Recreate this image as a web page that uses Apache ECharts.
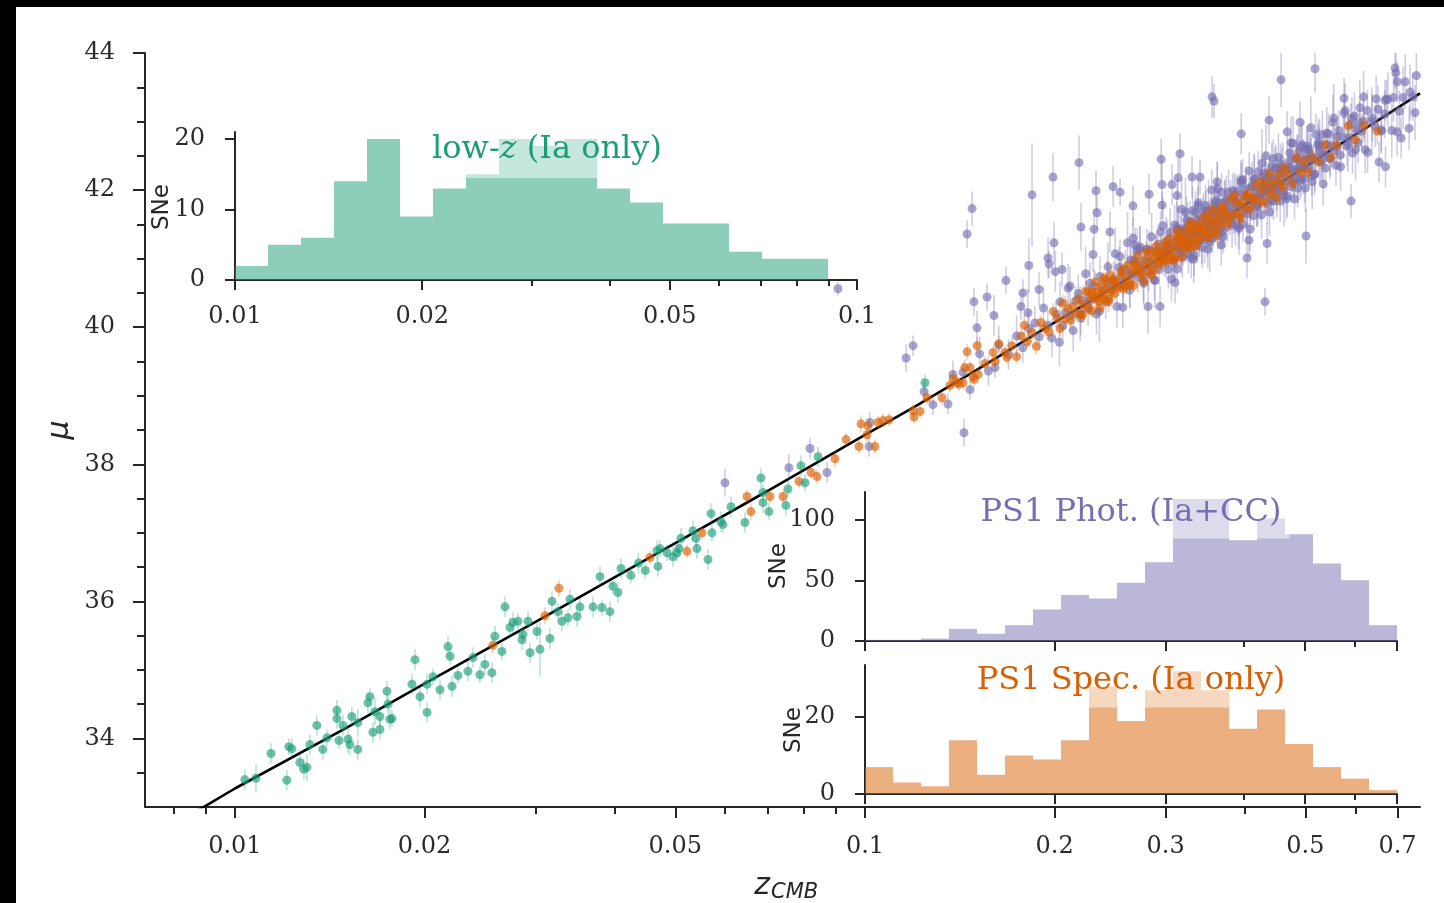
<!DOCTYPE html>
<html><head><meta charset="utf-8">
<script src="https://cdn.jsdelivr.net/npm/echarts@6.0.0/dist/echarts.min.js"></script>
<style>html,body{margin:0;padding:0;background:#fff}#c{width:1444px;height:903px}</style>
</head><body><div id="c"></div><script>
// ---------- model curve ----------
const curveZ  = [0.008,0.009,0.01,0.015,0.02,0.03,0.05,0.07,0.1,0.12,0.15,0.2,0.25,0.3,0.35,0.4,0.45,0.5,0.55,0.6,0.65,0.7,0.76];
const curveMu = [32.76,33.02,33.27,34.15,34.80,35.70,36.85,37.61,38.43,38.84,39.37,40.07,40.60,41.06,41.45,41.78,42.07,42.34,42.59,42.81,43.01,43.20,43.41];

// ---------- histograms ----------
const lowzEdges  = [0.01,0.011297,0.012762,0.014417,0.016287,0.0184,0.020786,0.023482,0.026527,0.029967,0.033854,0.038244,0.043204,0.048807,0.055137,0.062288,0.070366,0.079491,0.0898];
const lowzCounts = [2,5,6,14,20,9,13,15,20,19,20,13,11,8,8,4,3,3];
const ps1Edges   = [0.1,0.11079,0.12275,0.136,0.15068,0.16694,0.18496,0.20492,0.22704,0.25154,0.27869,0.30877,0.34209,0.37902,0.41992,0.46524,0.51546,0.57109,0.63272,0.7];
const photCounts = [1,1,2,10,6,13,26,38,35,48,65,117,117,83,101,88,64,50,13];
const specCounts = [7,3,2,14,5,10,9,14,28,19,27,32,27,17,22,13,7,4,1];

// ---------- tick values ----------
const mainMajorX = [0.01,0.02,0.05,0.1,0.2,0.3,0.5,0.7];
const mainMinorX = [0.008,0.009,0.03,0.04,0.06,0.07,0.08,0.09,0.4,0.6];
const mainMajorY = [34,36,38,40,42,44];
const mainMinorY = [33.5,34.5,35,35.5,36.5,37,37.5,38.5,39,39.5,40.5,41,41.5,42.5,43,43.5];
const lowzMajorX = [0.01,0.02,0.05,0.1];
const lowzMinorX = [0.03,0.04,0.06,0.07,0.08,0.09];
const ps1MajorX  = [0.1,0.2,0.3,0.5,0.7];
const ps1MinorX  = [0.4,0.6];
const lowzTicksY = [0,10,20];
const photTicksY = [0,50,100];
const specTicksY = [0,20];

// ---------- low-z sample [z, mu, err] ----------
const lowzData = [
[0.01037,33.40,0.15],[0.01080,33.42,0.2],[0.01141,33.78,0.15],[0.01209,33.39,0.15],[0.01218,33.88,0.12],[0.01231,33.85,0.15],[0.01268,33.65,0.12],[0.01287,33.55,0.15],[0.01301,33.58,0.2],[0.01315,33.91,0.15],
[0.01349,34.19,0.15],[0.01379,33.84,0.15],[0.01400,34.01,0.12],[0.01452,34.41,0.15],[0.01452,34.29,0.15],[0.01463,33.97,0.12],[0.01484,34.19,0.15],[0.01512,33.99,0.2],[0.01522,33.91,0.15],[0.01533,34.32,0.15],
[0.01567,33.84,0.15],[0.01567,34.23,0.2],[0.01626,34.52,0.15],[0.01638,34.61,0.12],[0.01656,34.09,0.15],[0.01668,34.39,0.2],[0.01699,34.13,0.15],[0.01699,34.32,0.15],[0.01743,34.69,0.15],[0.01750,34.50,0.15],
[0.01762,34.28,0.15],[0.01775,34.29,0.12],[0.01910,34.79,0.15],[0.01931,35.15,0.15],[0.01967,34.61,0.15],[0.02018,34.38,0.15],[0.02018,34.79,0.15],[0.02062,34.90,0.12],[0.02116,34.71,0.15],[0.02179,35.34,0.15],
[0.02195,35.20,0.12],[0.02211,34.76,0.15],[0.02259,34.92,0.12],[0.02343,34.98,0.15],[0.02387,35.18,0.15],[0.02448,34.93,0.12],[0.02493,35.08,0.15],[0.02558,34.96,0.15],[0.02586,35.49,0.15],[0.02653,35.27,0.12],
[0.02683,35.92,0.15],[0.02732,35.62,0.15],[0.02763,35.69,0.15],[0.02813,35.71,0.12],[0.02855,35.44,0.15],[0.02865,35.52,0.12],[0.02918,35.71,0.15],[0.02940,35.25,0.15],[0.03016,35.56,0.12],[0.03049,35.30,0.4],
[0.03162,35.46,0.15],[0.03186,36.00,0.15],[0.03256,35.85,0.12],[0.03304,35.71,0.15],[0.03378,35.76,0.12],[0.03402,36.03,0.15],[0.03491,35.78,0.15],[0.03529,35.92,0.12],[0.03701,35.92,0.15],[0.03797,36.36,0.15],
[0.03825,35.91,0.12],[0.03938,35.85,0.15],[0.03981,36.22,0.12],[0.04054,36.13,0.15],[0.04100,36.48,0.15],[0.0425,36.38,0.12],[0.0437,36.56,0.15],[0.0448,36.45,0.12],[0.04676,36.74,0.15],[0.04693,36.51,0.15],
[0.04727,36.77,0.12],[0.04850,36.71,0.12],[0.04957,36.65,0.15],[0.05030,36.71,0.12],[0.05067,36.77,0.12],[0.05104,36.92,0.15],[0.05333,37.03,0.15],[0.05391,36.92,0.12],[0.05411,36.77,0.15],[0.05634,36.61,0.15],
[0.05696,37.28,0.15],[0.05717,37.00,0.12],[0.05907,37.16,0.15],[0.05951,37.12,0.12],[0.06128,37.38,0.15],[0.06449,37.15,0.15],[0.06838,37.80,0.15],[0.06888,37.59,0.12],[0.06888,37.44,0.15],[0.07041,37.31,0.12],
[0.07490,37.40,0.15],[0.07546,37.64,0.12],[0.07913,37.98,0.15],[0.08031,37.73,0.12],[0.08423,38.11,0.15],[0.1245,39.19,0.12]
];

// ---------- PS1 spectroscopic sample [z, mu, err] ----------
const specData = [
[0.02567,35.36,0.12],[0.03105,35.79,0.12],[0.03268,36.19,0.12],[0.04557,36.64,0.1],[0.05218,36.73,0.1],[0.05512,37.00,0.1],[0.06497,37.53,0.1],[0.06592,37.31,0.12],[0.07067,37.53,0.1],[0.07411,37.53,0.1],
[0.07855,37.75,0.1],[0.08210,37.88,0.1],[0.08391,37.82,0.1],[0.08962,38.08,0.12],[0.09329,38.36,0.1],[0.09783,38.26,0.1],[0.09855,38.59,0.12],[0.1007,38.43,0.1],[0.1011,38.56,0.1],[0.1037,38.26,0.1],
[0.1049,38.61,0.1],[0.1068,38.64,0.1],[0.1092,38.65,0.1],[0.1192,38.78,0.1],[0.1196,38.69,0.1],[0.1223,38.77,0.1],[0.1254,38.97,0.1],[0.1325,38.97,0.1],[0.1364,39.15,0.1],[0.1400,39.19,0.1],
[0.1431,39.19,0.1],[0.1452,39.64,0.12],[0.1468,39.41,0.1],[0.1484,39.28,0.1],[0.1506,39.73,0.12],[0.1512,39.31,0.1],[0.1597,39.63,0.1],[0.1608,39.50,0.1],[0.1668,39.63,0.1],
[0.138,39.25,0.12],[0.141,39.17,0.1],[0.144,39.41,0.12],[0.149,39.24,0.1],[0.155,39.47,0.1],[0.163,39.76,0.12],
[0.168,39.56,0.1],[0.171,39.73,0.12],[0.174,39.57,0.1],[0.177,39.87,0.12],[0.179,40.03,0.15],[0.181,39.79,0.1],[0.184,39.92,0.12],
[0.187,39.72,0.12],[0.190,40.07,0.1],[0.193,39.98,0.12],[0.196,39.93,0.1],[0.199,40.23,0.12],[0.202,40.13,0.1],[0.204,39.98,0.12],
[0.206,40.35,0.12],[0.208,40.12,0.1],[0.210,40.27,0.12],[0.212,40.10,0.1],[0.214,40.30,0.12],[0.216,40.20,0.1],[0.218,40.41,0.12],[0.220,40.18,0.1],[0.222,40.33,0.12],[0.224,40.52,0.15],[0.226,40.28,0.1],
[0.228,40.43,0.12],[0.229,40.24,0.1],[0.230,40.51,0.12],[0.232,40.66,0.15],[0.233,40.41,0.1],[0.234,40.51,0.12],[0.236,40.28,0.1],[0.237,40.60,0.12],[0.238,40.48,0.1],[0.240,40.41,0.12],
[0.241,40.68,0.12],[0.242,40.56,0.1],[0.244,40.41,0.12],[0.245,40.76,0.15],[0.246,40.52,0.1],[0.248,40.67,0.12],[0.249,40.49,0.1],[0.250,40.68,0.12],
[0.253,40.58,0.12],[0.255,40.79,0.1],[0.257,40.56,0.12],[0.259,40.71,0.1],[0.261,40.90,0.15],[0.263,40.65,0.1],[0.265,40.80,0.12],[0.267,40.61,0.1],[0.269,40.89,0.12],[0.271,41.04,0.15],[0.273,40.80,0.1],[0.275,40.91,0.12],[0.277,40.67,0.1],
[0.280,41.01,0.12],[0.282,40.90,0.1],[0.283,40.82,0.12],[0.285,41.10,0.12],[0.287,40.99,0.1],[0.288,40.83,0.12],[0.290,41.18,0.15],[0.292,40.95,0.1],[0.293,41.09,0.12],[0.295,40.92,0.1],
[0.297,41.11,0.12],[0.298,40.99,0.1],[0.300,41.20,0.12],[0.302,40.97,0.1],[0.303,41.10,0.12],[0.305,41.29,0.15],[0.306,41.03,0.1],[0.308,41.17,0.12],
[0.310,40.99,0.12],[0.312,41.27,0.1],[0.313,41.40,0.15],[0.315,41.16,0.1],[0.316,41.26,0.12],[0.318,41.02,0.12],[0.319,41.34,0.1],[0.321,41.23,0.12],[0.322,41.15,0.1],[0.324,41.42,0.15],
[0.325,41.30,0.1],[0.327,41.15,0.12],[0.328,41.49,0.15],[0.330,41.26,0.1],[0.331,41.40,0.12],[0.333,41.22,0.1],[0.334,41.41,0.12],[0.336,41.30,0.1],[0.338,41.50,0.15],[0.340,41.27,0.12],
[0.343,41.42,0.12],[0.345,41.60,0.12],[0.347,41.35,0.1],[0.349,41.49,0.12],[0.351,41.31,0.1],[0.353,41.58,0.12],[0.355,41.72,0.15],[0.357,41.48,0.1],[0.359,41.58,0.12],[0.361,41.35,0.12],
[0.363,41.67,0.12],[0.365,41.55,0.1],[0.368,41.49,0.12],[0.371,41.76,0.15],[0.374,41.66,0.1],[0.377,41.51,0.12],
[0.381,41.88,0.12],[0.385,41.65,0.12],[0.389,41.80,0.1],[0.393,41.64,0.12],[0.397,41.84,0.12],[0.401,41.74,0.1],[0.405,41.95,0.15],[0.409,41.73,0.12],[0.413,41.88,0.12],[0.417,42.08,0.15],
[0.422,41.84,0.12],[0.426,42.00,0.12],[0.430,41.82,0.12],[0.434,42.10,0.12],[0.438,42.25,0.15],[0.442,42.01,0.12],[0.446,42.12,0.12],[0.450,41.89,0.12],[0.454,42.23,0.15],[0.457,42.11,0.12],[0.460,42.04,0.12],[0.463,42.32,0.15],
[0.470,42.23,0.15],[0.477,42.09,0.12],[0.484,42.47,0.15],[0.491,42.26,0.12],[0.498,42.42,0.15],[0.505,42.26,0.12],[0.512,42.48,0.15],
[0.525,42.41,0.15],[0.537,42.66,0.15],[0.549,42.48,0.15],[0.560,42.66,0.15],[0.585,42.94,0.18],[0.600,42.73,0.18],[0.620,42.94,0.18],[0.650,42.86,0.2]
];
const specExtra = [
[0.2215,40.18,0.12],[0.2265,40.52,0.1],[0.2315,40.44,0.15],[0.2355,40.38,0.12],[0.2395,40.71,0.1],[0.2435,40.37,0.15],[0.2475,40.67,0.12],[0.2515,40.60,0.1],[0.2555,40.83,0.15],[0.2595,40.60,0.12],
[0.2635,40.61,0.1],[0.2675,40.93,0.15],[0.2715,40.83,0.12],[0.2755,40.77,0.1],[0.2795,41.10,0.15],[0.2845,40.76,0.12],[0.2895,41.07,0.1],[0.2945,41.00,0.15],[0.2995,41.24,0.12],[0.3045,41.00,0.1],
[0.3095,41.02,0.15],[0.3145,41.34,0.12],[0.3195,41.25,0.1],[0.3245,41.19,0.15],[0.3295,41.52,0.12],[0.3345,41.18,0.1],[0.3395,41.47,0.15],[0.3445,41.40,0.12],[0.3495,41.63,0.1],[0.3545,41.39,0.15],
[0.3605,41.40,0.12],[0.3665,41.73,0.1],[0.3725,41.64,0.15],[0.3785,41.58,0.12],[0.3865,41.92,0.1],[0.3945,41.59,0.15],[0.4035,41.91,0.12],[0.4135,41.86,0.1],[0.4255,42.12,0.15],[0.4395,41.93,0.12]
];

// ---------- PS1 photometric sample [z, mu, err] ----------
const photScatter = [
[0.0906,40.56,0.1],[0.05995,37.73,0.2],[0.07573,37.95,0.2],[0.08180,38.23,0.15],[0.08705,37.88,0.15],[0.1018,38.61,0.15],[0.1015,38.26,0.15],[0.1162,39.55,0.2],[0.1192,39.73,0.15],[0.1241,39.06,0.15],
[0.1282,38.87,0.15],[0.1354,38.88,0.15],[0.1379,39.31,0.2],[0.1431,39.34,0.15],[0.1436,38.46,0.2],[0.1468,39.09,0.15],[0.1608,39.41,0.15],
[0.1479,41.73,0.25],[0.1452,41.36,0.2],[0.1841,41.93,0.75],[0.2186,42.40,0.4],[0.1988,42.19,0.35],[0.2326,41.99,0.3],[0.2476,42.05,0.3],[0.2540,41.97,0.2],[0.2663,41.77,0.3],
[0.2824,41.94,0.3],[0.2951,42.45,0.3],[0.3162,42.53,0.3],[0.2961,42.08,0.35],[0.2961,41.78,0.2],[0.3071,42.08,0.3],[0.3128,41.92,0.25],[0.3140,42.18,0.3],[0.3304,42.19,0.3],[0.3402,42.19,0.25],
[0.3620,42.12,0.3],[0.3554,43.36,0.3],[0.3580,43.30,0.25],[0.4575,43.61,0.4],[0.5179,43.77,0.35],[0.6937,43.78,0.3],[0.6960,43.71,0.3],[0.3954,42.82,0.3],[0.4378,43.02,0.35],[0.5758,43.34,0.3],
[0.6689,43.31,0.3],[0.7331,43.43,0.4],[0.7464,43.13,0.4],[0.4903,42.99,0.3],[0.4677,42.85,0.3],[0.6989,42.85,0.35],[0.7093,42.76,0.3],[0.6545,42.41,0.3],[0.6700,42.34,0.3],[0.5907,41.84,0.25],
[0.5012,41.33,0.4],[0.4314,40.37,0.2],[0.4039,41.01,0.3],[0.4346,41.22,0.3],[0.4069,41.27,0.25],[0.1674,40.68,0.2],[0.1489,40.37,0.2],[0.1562,40.44,0.2],[0.1506,39.99,0.25],[0.1602,40.17,0.3],
[0.1781,40.50,0.2],[0.1889,40.55,0.25],[0.1768,40.30,0.2],[0.1814,40.21,0.35],[0.1820,40.90,0.4],[0.1995,41.23,0.3],[0.1952,41.01,0.3],[0.1960,40.92,0.2],[0.2005,40.81,0.3],[0.2055,40.84,0.25],
[0.2202,41.46,0.35],[0.2310,41.43,0.3],[0.2301,41.06,0.25],[0.2448,41.39,0.3],[0.2335,41.67,0.25],[0.2663,41.30,0.3],[0.2683,41.20,0.25],[0.2733,41.17,0.3],[0.2540,41.03,0.25],[0.2643,40.98,0.2],
[0.2813,40.30,0.4],[0.2940,40.30,0.3],[0.3105,40.65,0.3]
];
const photBand = [
[0.152,39.61,0.25],[0.157,39.36,0.22],[0.163,39.74,0.28],[0.169,39.60,0.22],[0.174,39.87,0.3],[0.178,39.70,0.22],[0.182,39.98,0.25],
[0.186,40.06,0.25],[0.189,39.86,0.2],[0.192,40.28,0.3],[0.195,40.03,0.22],[0.198,39.84,0.28],[0.201,40.19,0.2],[0.204,40.37,0.3],
[0.206,40.02,0.2],[0.208,40.21,0.25],[0.210,40.57,0.35],[0.212,40.17,0.22],[0.214,39.95,0.3],[0.216,40.39,0.2],[0.218,40.49,0.28],[0.220,40.13,0.25],[0.222,40.39,0.22],[0.224,40.78,0.4],[0.226,40.27,0.25],
[0.228,40.39,0.2],[0.231,40.60,0.25],[0.233,40.19,0.3],[0.236,40.74,0.3],[0.238,40.54,0.22],[0.241,40.37,0.25],[0.243,40.88,0.35],[0.246,40.55,0.2],[0.248,40.70,0.25],[0.251,40.30,0.3],
[0.253,40.87,0.3],[0.255,40.74,0.22],[0.257,40.61,0.25],[0.259,40.85,0.28],[0.261,41.23,0.45],[0.263,40.54,0.25],[0.265,40.78,0.2],[0.267,40.97,0.3],[0.269,40.96,0.25],[0.271,40.73,0.22],[0.273,41.13,0.35],[0.275,40.86,0.2],[0.277,40.64,0.28],[0.278,40.97,0.22],
[0.280,41.14,0.3],[0.282,40.78,0.25],[0.283,40.96,0.2],[0.285,41.32,0.35],[0.287,40.92,0.22],[0.288,40.69,0.3],[0.290,41.11,0.25],[0.292,41.21,0.28],[0.293,40.84,0.22],[0.295,41.10,0.25],[0.297,41.48,0.4],[0.298,40.95,0.2],[0.300,41.07,0.22],[0.302,41.27,0.3],[0.303,40.84,0.28],[0.305,41.38,0.35],[0.306,41.17,0.22],[0.308,40.98,0.25],
[0.310,41.49,0.3],[0.311,41.14,0.2],[0.312,41.28,0.25],[0.313,40.85,0.35],[0.314,41.41,0.3],[0.315,41.27,0.22],[0.316,41.13,0.25],[0.317,41.36,0.28],[0.318,41.72,0.45],[0.319,41.02,0.3],[0.320,41.25,0.2],[0.321,41.44,0.25],[0.322,41.42,0.3],[0.323,41.17,0.22],[0.324,41.56,0.35],[0.325,41.28,0.2],
[0.326,41.06,0.28],[0.327,41.39,0.22],[0.328,41.54,0.3],[0.329,41.17,0.25],[0.330,41.35,0.2],[0.331,41.70,0.35],[0.332,41.29,0.22],[0.333,41.05,0.3],[0.334,41.47,0.25],[0.335,41.56,0.28],[0.336,41.19,0.22],[0.337,41.44,0.25],[0.338,41.81,0.4],[0.339,41.28,0.2],[0.340,41.39,0.22],[0.341,41.58,0.3],
[0.343,41.16,0.3],[0.344,41.69,0.2],[0.345,41.47,0.25],[0.346,41.28,0.35],[0.347,41.78,0.3],[0.348,41.43,0.22],[0.349,41.56,0.25],[0.350,41.14,0.28],[0.351,41.70,0.45],[0.352,41.55,0.3],[0.353,41.41,0.2],[0.354,41.64,0.25],[0.355,42.00,0.3],[0.356,41.30,0.22],[0.357,41.53,0.35],[0.358,41.72,0.2],
[0.359,41.69,0.28],[0.360,41.45,0.22],[0.361,41.84,0.3],[0.362,41.55,0.25],[0.363,41.33,0.2],[0.364,41.66,0.35],[0.365,41.81,0.22],[0.366,41.44,0.3],[0.367,41.62,0.25],[0.368,41.97,0.28],[0.369,41.55,0.22],[0.370,41.32,0.25],[0.372,41.74,0.4],[0.374,41.84,0.2],[0.376,41.47,0.22],[0.378,41.73,0.3],
[0.380,41.84,0.3],[0.382,41.60,0.2],[0.383,41.99,0.25],[0.385,41.71,0.35],[0.387,41.49,0.3],[0.388,41.82,0.22],[0.390,41.98,0.25],[0.392,41.61,0.28],[0.393,41.79,0.45],[0.395,42.14,0.3],[0.397,41.73,0.2],[0.398,41.50,0.25],
[0.400,41.92,0.3],[0.402,42.01,0.22],[0.404,41.65,0.35],[0.405,41.89,0.2],[0.407,42.28,0.28],[0.409,41.75,0.22],[0.410,41.86,0.3],[0.412,42.05,0.25],[0.414,41.63,0.2],[0.415,42.16,0.35],[0.417,41.95,0.22],[0.419,41.76,0.3],
[0.421,42.27,0.3],[0.423,41.92,0.2],[0.424,42.06,0.25],[0.426,41.64,0.35],[0.427,42.19,0.3],[0.429,42.05,0.22],[0.430,41.91,0.25],[0.432,42.14,0.28],[0.433,42.50,0.45],[0.435,41.80,0.3],[0.436,42.03,0.2],[0.438,42.22,0.25],[0.439,42.19,0.3],[0.441,41.96,0.22],
[0.442,42.34,0.35],[0.444,42.06,0.2],[0.445,41.84,0.28],[0.447,42.17,0.22],[0.448,42.32,0.3],[0.450,41.95,0.25],[0.451,42.13,0.2],[0.453,42.48,0.35],[0.454,42.07,0.22],[0.456,41.84,0.3],[0.457,42.25,0.25],[0.459,42.34,0.28],[0.461,41.98,0.22],[0.463,42.23,0.25],
[0.466,42.14,0.3],[0.468,41.91,0.3],[0.470,42.33,0.25],[0.472,42.42,0.3],[0.474,42.05,0.22],[0.476,42.30,0.25],[0.478,42.68,0.4],[0.480,42.15,0.22],[0.482,42.26,0.25],[0.484,42.45,0.3],[0.486,42.03,0.28],[0.488,42.56,0.35],[0.490,42.35,0.22],
[0.492,42.16,0.25],[0.494,42.66,0.35],[0.496,42.31,0.22],[0.498,42.45,0.25],[0.500,42.03,0.35],[0.502,42.59,0.3],[0.504,42.45,0.22],[0.506,42.31,0.25],[0.508,42.54,0.28],[0.510,42.91,0.45],[0.512,42.21,0.3],[0.514,42.44,0.22],
[0.517,42.23,0.3],[0.520,42.47,0.22],[0.523,42.66,0.3],[0.526,42.65,0.25],[0.529,42.41,0.28],[0.532,42.81,0.35],[0.535,42.53,0.22],[0.538,42.32,0.3],[0.541,42.66,0.25],[0.544,42.82,0.3],[0.547,42.46,0.25],[0.550,42.64,0.22],[0.553,42.99,0.4],[0.556,42.58,0.25],[0.559,42.36,0.3],[0.562,42.78,0.28],[0.565,42.87,0.3],[0.568,42.51,0.25],
[0.574,42.77,0.3],[0.578,43.16,0.4],[0.582,42.64,0.3],[0.586,42.76,0.25],[0.590,42.96,0.3],[0.594,42.54,0.3],[0.598,43.08,0.35],[0.602,42.88,0.25],[0.606,42.69,0.3],[0.610,43.20,0.4],[0.614,42.86,0.25],[0.618,43.00,0.3],[0.622,42.59,0.35],[0.627,43.16,0.3],
[0.638,43.05,0.35],[0.645,42.93,0.3],[0.652,43.18,0.35],[0.660,42.86,0.3],[0.668,43.11,0.35],[0.676,43.32,0.4],[0.690,43.35,0.35],[0.705,43.15,0.3],[0.720,43.58,0.4],[0.740,43.36,0.35]
];
const photExtra = [
[0.2035,39.78,0.35],[0.2115,40.60,0.28],[0.2195,40.20,0.4],[0.2275,40.64,0.3],[0.2355,40.23,0.45],[0.2425,40.65,0.32],[0.2495,41.07,0.38],[0.2565,40.29,0.3],[0.2635,40.77,0.5],[0.2705,41.12,0.33],
[0.2765,40.68,0.35],[0.2825,41.13,0.28],[0.2885,40.68,0.4],[0.2945,41.39,0.3],[0.3005,41.16,0.45],[0.3065,40.70,0.32],[0.3125,41.45,0.38],[0.3175,41.08,0.3],[0.3225,41.68,0.5],[0.3275,41.28,0.33],
[0.3325,40.99,0.35],[0.3375,41.77,0.28],[0.3425,41.32,0.4],[0.3475,41.70,0.3],[0.3525,41.25,0.45],[0.3575,41.63,0.32],[0.3625,42.02,0.38],[0.3675,41.20,0.3],[0.3725,41.65,0.5],[0.3775,41.97,0.33],
[0.3825,41.51,0.35],[0.3875,41.94,0.28],[0.3925,41.46,0.4],[0.3975,42.15,0.3],[0.4025,41.90,0.45],[0.4085,41.43,0.32],[0.4145,42.16,0.38],[0.4205,41.79,0.3],[0.4265,42.39,0.5],[0.4325,41.98,0.33],
[0.4385,41.68,0.35],[0.4445,42.46,0.28],[0.4505,42.00,0.4],[0.4565,42.38,0.3],[0.4625,41.92,0.45],[0.4685,42.30,0.32],[0.4745,42.69,0.38],[0.4805,41.87,0.3],[0.4865,42.31,0.5],[0.4925,42.63,0.33],
[0.4985,42.16,0.35],[0.5055,42.60,0.28],[0.5125,42.12,0.4],[0.5195,42.81,0.3],[0.5265,42.57,0.45],[0.5335,42.09,0.32],[0.5405,42.83,0.38],[0.5475,42.46,0.3],[0.5545,43.05,0.5],[0.5615,42.64,0.33],
[0.5685,42.34,0.35],[0.5765,43.12,0.28],[0.5845,42.66,0.4],[0.5925,43.05,0.3],[0.6005,42.59,0.45],[0.6095,42.98,0.32],[0.6185,43.36,0.38],[0.6275,42.55,0.3],[0.6375,43.00,0.5],[0.6475,43.33,0.33],
[0.6595,42.88,0.35],[0.6725,43.33,0.28],[0.6855,42.87,0.4],[0.6995,43.58,0.3],[0.7145,43.35,0.45],[0.7305,42.90,0.32],[0.75,43.67,0.38],
[0.3045,41.16,0.3],[0.3095,40.95,0.25],[0.3145,41.42,0.35],[0.3195,41.18,0.28],[0.3245,41.42,0.4],[0.3295,41.01,0.3],[0.3345,41.68,0.3],[0.3395,41.27,0.25],[0.3445,41.61,0.35],[0.3495,41.30,0.28],
[0.3545,41.50,0.4],[0.3595,41.80,0.3],[0.3645,41.62,0.3],[0.3695,41.40,0.25],[0.3745,41.86,0.35],[0.3795,41.62,0.28],[0.3855,41.86,0.4],[0.3915,41.44,0.3],[0.3955,42.10,0.3],[0.4045,41.71,0.25],
[0.4115,42.06,0.35],[0.4185,41.75,0.28],[0.4245,41.95,0.4],[0.4305,42.25,0.3],[0.4365,42.07,0.3],[0.4425,41.85,0.25],[0.4485,42.31,0.35],[0.4545,42.06,0.28],[0.4605,42.29,0.4],[0.4665,41.87,0.3],
[0.4725,42.54,0.3],[0.4785,42.13,0.25],[0.4845,42.46,0.35],[0.4905,42.14,0.28],[0.4965,42.34,0.4],[0.5035,42.64,0.3],[0.5105,42.46,0.3],[0.5175,42.23,0.25],[0.5245,42.70,0.35],[0.5315,42.45,0.28]
];

// ---------- styling ----------
const GREEN = '#1b9e77', ORANGE = '#d95f02', PURPLE = '#7570b3';
const AX = '#262626', LBL = '#2b2b2b';
const SERIF = "'DejaVu Serif', serif";
const SANS = "'DejaVu Sans', sans-serif";
function rgba(hex, a) { const n = parseInt(hex.slice(1), 16); return 'rgba(' + (n >> 16) + ',' + ((n >> 8) & 255) + ',' + (n & 255) + ',' + a + ')'; }
const fmt = v => String(Math.round(v * 1000) / 1000);

function xAxisDef(gi, min, max, vals, len, showLine, showLabel, margin) {
  return {
    type: 'log', logBase: 10, gridIndex: gi, min: min, max: max, position: 'bottom',
    axisLine: { show: showLine, onZero: false, lineStyle: { color: AX, width: 2 } },
    axisTick: { show: true, customValues: vals, length: len, inside: false, lineStyle: { color: AX, width: 2 } },
    axisLabel: { show: showLabel, customValues: vals, formatter: fmt, margin: margin || 28, color: LBL, fontFamily: SERIF, fontSize: 24 },
    splitLine: { show: false }, minorTick: { show: false }, minorSplitLine: { show: false }
  };
}
function yAxisDef(gi, min, max, vals, len, showLine, showLabel) {
  return {
    type: 'value', gridIndex: gi, min: min, max: max, position: 'left',
    axisLine: { show: showLine, onZero: false, lineStyle: { color: AX, width: 2 } },
    axisTick: { show: true, customValues: vals, length: len, inside: false, lineStyle: { color: AX, width: 2 } },
    axisLabel: { show: showLabel, customValues: vals, margin: 30, color: LBL, fontFamily: SERIF, fontSize: 24 },
    splitLine: { show: false }, minorTick: { show: false }
  };
}

function errSeries(data, color, z, a) {
  return {
    type: 'custom', xAxisIndex: 0, yAxisIndex: 0, data: data, z: z, silent: true, clip: true,
    encode: { x: 0, y: 1 },
    renderItem: function (p, api) {
      const x = api.value(0), m = api.value(1), e = api.value(2);
      const p1 = api.coord([x, m - e]), p2 = api.coord([x, m + e]);
      return { type: 'line', shape: { x1: p1[0], y1: p1[1], x2: p2[0], y2: p2[1] }, style: { stroke: rgba(color, a), lineWidth: 1.6 } };
    }
  };
}
function ptSeries(data, color, z) {
  return {
    type: 'scatter', xAxisIndex: 0, yAxisIndex: 0, z: z, silent: true,
    data: data.map(d => [d[0], d[1]]), symbol: 'circle', symbolSize: 9,
    itemStyle: { color: rgba(color, 0.8) }
  };
}
function histSeries(edges, counts, xi, yi, color) {
  const data = counts.map((c, i) => [edges[i], edges[i + 1], c]);
  return {
    type: 'custom', xAxisIndex: xi, yAxisIndex: yi, data: data, z: 2, silent: true,
    encode: { x: [0, 1], y: 2 },
    renderItem: function (p, api) {
      const lo = api.value(0), hi = api.value(1), n = api.value(2);
      const a = api.coord([lo, n]), b = api.coord([hi, 0]);
      const x0 = Math.round(a[0]), x1 = Math.round(b[0]);
      return { type: 'rect', shape: { x: x0, y: a[1], width: x1 - x0, height: b[1] - a[1] }, style: { fill: rgba(color, 0.5) } };
    }
  };
}

const photData = photScatter.concat(photBand, photExtra);
const specAll = specData.concat(specExtra);

const option = {
  animation: false,
  backgroundColor: '#ffffff',
  grid: [
    { left: 145, top: 53, right: 24, bottom: 96, outerBoundsMode: 'none', containLabel: false },
    { left: 235, top: 132, right: 587, bottom: 623, outerBoundsMode: 'none', containLabel: false },
    { left: 865, top: 492, right: 47, bottom: 262, outerBoundsMode: 'none', containLabel: false },
    { left: 865, top: 665, right: 47, bottom: 109, outerBoundsMode: 'none', containLabel: false }
  ],
  xAxis: [
    xAxisDef(0, 0.0072, 0.76, mainMajorX, 11, true, true, 28),
    xAxisDef(0, 0.0072, 0.76, mainMinorX, 7, false, false),
    xAxisDef(1, 0.01, 0.1, lowzMajorX, 10, true, true, 25),
    xAxisDef(1, 0.01, 0.1, lowzMinorX, 6, false, false),
    xAxisDef(2, 0.1, 0.7, ps1MajorX, 10, true, false),
    xAxisDef(2, 0.1, 0.7, ps1MinorX, 6, false, false),
    xAxisDef(3, 0.1, 0.7, ps1MajorX, 10, true, false),
    xAxisDef(3, 0.1, 0.7, ps1MinorX, 6, false, false)
  ],
  yAxis: [
    yAxisDef(0, 33, 44, mainMajorY, 12, true, true),
    yAxisDef(0, 33, 44, mainMinorY, 8, false, false),
    yAxisDef(1, 0, 21, lowzTicksY, 10, true, true),
    yAxisDef(2, 0, 122.85, photTicksY, 10, true, true),
    yAxisDef(3, 0, 33.6, specTicksY, 10, true, true)
  ],
  series: [
    { type: 'line', xAxisIndex: 0, yAxisIndex: 0, data: curveZ.map((z, i) => [z, curveMu[i]]), showSymbol: false, smooth: false, clip: true, z: 1, silent: true, lineStyle: { color: '#000', width: 2.6 } },
    errSeries(photData, PURPLE, 2, 0.35), ptSeries(photData, PURPLE, 3),
    errSeries(specAll, ORANGE, 4, 0.3), ptSeries(specAll, ORANGE, 5),
    errSeries(lowzData, GREEN, 6, 0.3), ptSeries(lowzData, GREEN, 7),
    histSeries(lowzEdges, lowzCounts, 2, 2, GREEN),
    histSeries(ps1Edges, photCounts, 4, 3, PURPLE),
    histSeries(ps1Edges, specCounts, 6, 4, ORANGE)
  ],
  graphic: [
    { type: 'rect', z: 200, shape: { x: 0, y: 0, width: 1444, height: 7 }, style: { fill: '#000' } },
    { type: 'rect', z: 200, shape: { x: 0, y: 0, width: 16, height: 903 }, style: { fill: '#000' } },
    { type: 'text', z: 100, x: 547, y: 151, style: {
        text: '{a|low-}{b|z}{a| (Ia only)}', align: 'center', verticalAlign: 'middle',
        rich: { a: { fontFamily: SERIF, fontSize: 32, fill: GREEN, lineHeight: 36 }, b: { fontFamily: SERIF, fontStyle: 'italic', fontSize: 32, fill: GREEN, lineHeight: 36 } },
        backgroundColor: 'rgba(255,255,255,0.5)', padding: [8, 8, 10, 8] } },
    { type: 'text', z: 100, x: 1131, y: 513, style: {
        text: 'PS1 Phot. (Ia+CC)', align: 'center', verticalAlign: 'middle', fontFamily: SERIF, fontSize: 32, fill: PURPLE, lineHeight: 36,
        backgroundColor: 'rgba(255,255,255,0.5)', padding: [8, 8, 7, 8] } },
    { type: 'text', z: 100, x: 1131, y: 681, style: {
        text: 'PS1 Spec. (Ia only)', align: 'center', verticalAlign: 'middle', fontFamily: SERIF, fontSize: 32, fill: ORANGE, lineHeight: 36,
        backgroundColor: 'rgba(255,255,255,0.5)', padding: [8, 8, 9, 8] } },
    { type: 'text', z: 100, x: 60, y: 430, rotation: Math.PI / 2, style: { text: 'μ', align: 'center', verticalAlign: 'middle', fontFamily: SANS, fontStyle: 'italic', fontSize: 30, fill: AX } },
    { type: 'text', z: 100, x: 770, y: 886, style: { text: 'z', align: 'right', verticalAlign: 'middle', fontFamily: SANS, fontStyle: 'italic', fontSize: 30, fill: AX } },
    { type: 'text', z: 100, x: 771, y: 893, style: { text: 'CMB', align: 'left', verticalAlign: 'middle', fontFamily: SANS, fontStyle: 'italic', fontSize: 21, fill: AX } },
    { type: 'text', z: 100, x: 162, y: 207, rotation: Math.PI / 2, style: { text: 'SNe', align: 'center', verticalAlign: 'middle', fontFamily: SANS, fontSize: 23, fill: AX } },
    { type: 'text', z: 100, x: 779, y: 566, rotation: Math.PI / 2, style: { text: 'SNe', align: 'center', verticalAlign: 'middle', fontFamily: SANS, fontSize: 23, fill: AX } },
    { type: 'text', z: 100, x: 794, y: 730, rotation: Math.PI / 2, style: { text: 'SNe', align: 'center', verticalAlign: 'middle', fontFamily: SANS, fontSize: 23, fill: AX } }
  ]
};

const chart = echarts.init(document.getElementById('c'), null, { renderer: 'canvas' });
chart.setOption(option);
</script></body></html>
